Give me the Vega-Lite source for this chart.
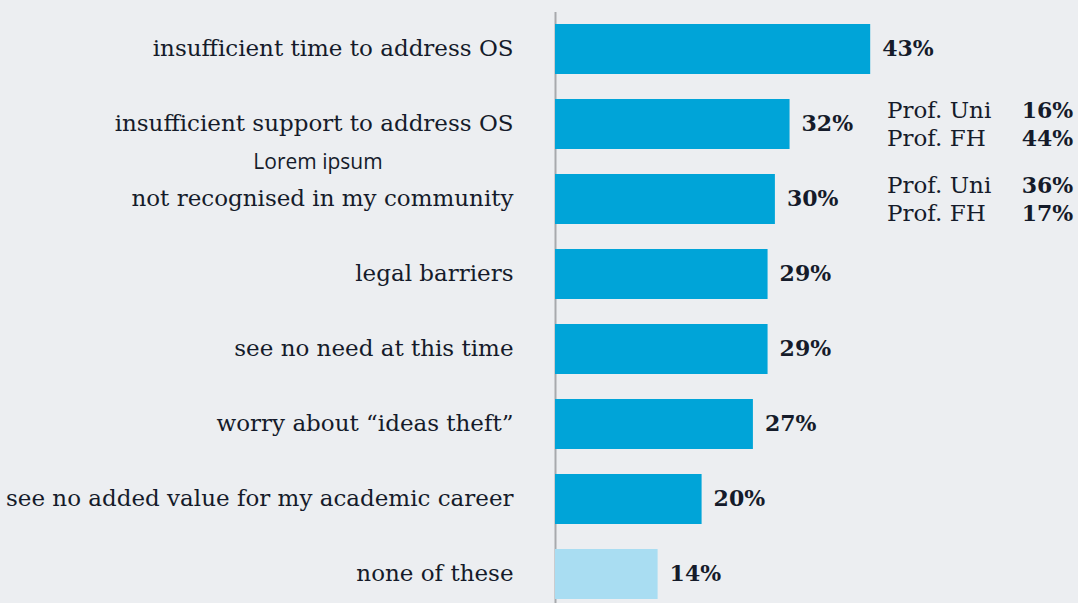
{
  "$schema": "https://vega.github.io/schema/vega-lite/v6.json",
  "width": 523,
  "height": 591.5,
  "autosize": {"type": "none"},
  "padding": {"left": 555, "top": 11.5, "right": 0, "bottom": 0},
  "background": "#ECEEF1",
  "config": {"view": {"stroke": null}},
  "datasets": {
    "bars": [
      {"category": "insufficient time to address OS", "value": 43, "pct": "43%", "kind": "main"},
      {"category": "insufficient support to address OS", "value": 32, "pct": "32%", "kind": "main"},
      {"category": "not recognised in my community", "value": 30, "pct": "30%", "kind": "main"},
      {"category": "legal barriers", "value": 29, "pct": "29%", "kind": "main"},
      {"category": "see no need at this time", "value": 29, "pct": "29%", "kind": "main"},
      {"category": "worry about “ideas theft”", "value": 27, "pct": "27%", "kind": "main"},
      {"category": "see no added value for my academic career", "value": 20, "pct": "20%", "kind": "main"},
      {"category": "none of these", "value": 14, "pct": "14%", "kind": "none"}
    ],
    "sub": [
      {"category": "insufficient support to address OS", "names": "Prof. Uni\nProf. FH", "pcts": "16%\n44%"},
      {"category": "not recognised in my community", "names": "Prof. Uni\nProf. FH", "pcts": "36%\n17%"}
    ],
    "note": [
      {"category": "insufficient support to address OS", "text": "Lorem ipsum"}
    ]
  },
  "resolve": {"scale": {"x": "shared"}},
  "layer": [
    {
      "data": {"name": "bars"},
      "mark": {"type": "bar"},
      "encoding": {
        "y": {
          "field": "category", "type": "nominal", "sort": null,
          "scale": {"range": [0, 600], "paddingInner": 0.3333, "paddingOuter": 0.1667},
          "axis": {
            "title": null, "ticks": false, "grid": false,
            "domain": true, "domainColor": "#A7A9AD", "domainWidth": 2,
            "labelFont": "DejaVu Serif", "labelFontSize": 23, "labelColor": "#151B2A",
            "labelPadding": 42, "labelLimit": 0
          }
        },
        "x": {"field": "value", "type": "quantitative", "scale": {"domain": [0, 71.35], "nice": false, "zero": true}, "axis": null},
        "color": {
          "field": "kind", "type": "nominal",
          "scale": {"domain": ["main", "none"], "range": ["#00A4D8", "#A9DDF2"]},
          "legend": null
        }
      }
    },
    {
      "data": {"name": "bars"},
      "mark": {"type": "text", "align": "left", "baseline": "middle", "dx": 12, "font": "DejaVu Serif", "fontWeight": "bold", "fontSize": 22, "color": "#151B2A"},
      "encoding": {
        "y": {"field": "category", "type": "nominal", "sort": null},
        "x": {"field": "value", "type": "quantitative"},
        "text": {"field": "pct"}
      }
    },
    {
      "data": {"name": "sub"},
      "mark": {"type": "text", "align": "left", "baseline": "middle", "lineBreak": "\n", "lineHeight": 28, "dy": -13, "font": "DejaVu Serif", "fontSize": 23, "color": "#151B2A"},
      "encoding": {
        "y": {"field": "category", "type": "nominal", "sort": null},
        "x": {"datum": 45.3, "type": "quantitative"},
        "text": {"field": "names"}
      }
    },
    {
      "data": {"name": "sub"},
      "mark": {"type": "text", "align": "right", "baseline": "middle", "lineBreak": "\n", "lineHeight": 28, "dy": -13, "font": "DejaVu Serif", "fontWeight": "bold", "fontSize": 22, "color": "#151B2A"},
      "encoding": {
        "y": {"field": "category", "type": "nominal", "sort": null},
        "x": {"datum": 70.7, "type": "quantitative"},
        "text": {"field": "pcts"}
      }
    },
    {
      "data": {"name": "note"},
      "mark": {"type": "text", "align": "center", "baseline": "alphabetic", "dx": -237, "dy": 45, "font": "Open Sans", "fontSize": 21, "color": "#151B2A"},
      "encoding": {
        "y": {"field": "category", "type": "nominal", "sort": null},
        "x": {"datum": 0, "type": "quantitative"},
        "text": {"field": "text"}
      }
    }
  ]
}
